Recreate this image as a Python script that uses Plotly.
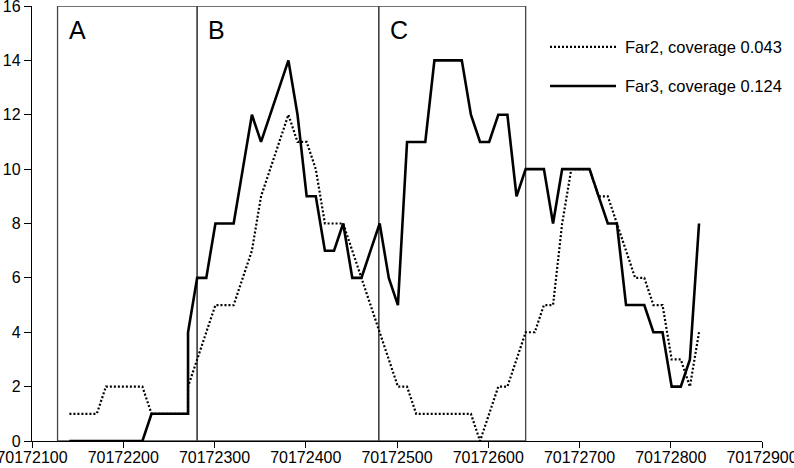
import plotly.graph_objects as go

# genomic positions (every 10 bp, with a doubled point at 70172271)
far2_pos = [70172141, 70172151, 70172161, 70172171, 70172181, 70172191, 70172201, 70172211,
            70172221, 70172231, 70172241, 70172251, 70172261, 70172271, 70172271, 70172281,
            70172291, 70172301, 70172311, 70172321, 70172331, 70172341, 70172351, 70172361,
            70172371, 70172381, 70172391, 70172401, 70172411, 70172421, 70172431, 70172441,
            70172451, 70172461, 70172471, 70172481, 70172491, 70172501, 70172511, 70172521,
            70172531, 70172541, 70172551, 70172561, 70172571, 70172581, 70172591, 70172601,
            70172611, 70172621, 70172631, 70172641, 70172651, 70172661, 70172671, 70172681,
            70172691, 70172701, 70172711, 70172721, 70172731, 70172741, 70172751, 70172761,
            70172771, 70172781, 70172791, 70172801, 70172811, 70172821, 70172831]
far2_cov = [1, 1, 1, 1, 2, 2, 2, 2,
            2, 1, 1, 1, 1, 1, 2, 3,
            4, 5, 5, 5, 6, 7, 9, 10,
            11, 12, 11, 11, 10, 8, 8, 8,
            7, 6, 5, 4, 3, 2, 2, 1,
            1, 1, 1, 1, 1, 1, 0, 1,
            2, 2, 3, 4, 4, 5, 5, 8,
            10, 10, 10, 9, 9, 8, 7, 6,
            6, 5, 5, 3, 3, 2, 4]

far3_pos = list(far2_pos)
far3_cov = [0, 0, 0, 0, 0, 0, 0, 0,
            0, 1, 1, 1, 1, 1, 4, 6,
            6, 8, 8, 8, 10, 12, 11, 12,
            13, 14, 12, 9, 9, 7, 7, 8,
            6, 6, 7, 8, 6, 5, 11, 11,
            11, 14, 14, 14, 14, 12, 11, 11,
            12, 12, 9, 10, 10, 10, 8, 10,
            10, 10, 10, 9, 8, 8, 5, 5,
            5, 4, 4, 2, 2, 3, 8]

region_names = ["A", "B", "C"]
region_bounds = [(70172128, 70172281), (70172281, 70172480), (70172480, 70172641)]

legend_names = ["Far2, coverage 0.043", "Far3, coverage 0.124"]

x_ticks = [70172100, 70172200, 70172300, 70172400, 70172500, 70172600, 70172700, 70172800, 70172900]
y_ticks = [0, 2, 4, 6, 8, 10, 12, 14, 16]

FONT = "Liberation Sans, Arial, sans-serif"

fig = go.Figure()
fig.add_trace(go.Scatter(x=far2_pos, y=far2_cov, mode="lines", name=legend_names[0],
                         line=dict(color="black", width=2.2, dash="2px,2px")))
fig.add_trace(go.Scatter(x=far3_pos, y=far3_cov, mode="lines", name=legend_names[1],
                         line=dict(color="black", width=2.6)))

# region boxes
for name, (x0, x1) in zip(region_names, region_bounds):
    fig.add_shape(type="rect", xref="x", yref="y", x0=x0, x1=x1, y0=0, y1=16,
                  line=dict(color="#444444", width=1.3), layer="below")
    fig.add_annotation(x=x0 + 10, y=15.1, xref="x", yref="y", text=name, showarrow=False,
                       xanchor="left", yanchor="middle",
                       font=dict(family=FONT, size=25, color="black"))

# hand-made legend (long line samples)
for i, (name, dash, w) in enumerate(zip(legend_names, ["2px,2px", "solid"], [2.2, 2.6])):
    yp = 0.906 - i * 0.09
    fig.add_shape(type="line", xref="paper", yref="paper", x0=0.7096, x1=0.80, y0=yp, y1=yp,
                  line=dict(color="black", width=w, dash=dash))
    fig.add_annotation(x=0.81, y=yp, xref="paper", yref="paper", text=name, showarrow=False,
                       xanchor="left", yanchor="middle",
                       font=dict(family=FONT, size=16.5, color="black"))

fig.update_layout(
    width=794, height=468,
    margin=dict(l=32, r=32, t=6, b=27),
    plot_bgcolor="white", paper_bgcolor="white",
    showlegend=False,
    font=dict(family=FONT, size=16, color="black"),
)
fig.update_xaxes(range=[70172100, 70172900], tickmode="array", tickvals=x_ticks,
                 ticktext=[str(v) for v in x_ticks], automargin=False,
                 ticklabeloverflow="allow", ticklabelstandoff=-4,
                 showgrid=False, zeroline=False,
                 showline=True, linecolor="black", linewidth=1.3,
                 ticks="outside", ticklen=6, tickcolor="black", tickwidth=1.3)
fig.update_yaxes(range=[0, 16], tickmode="array", tickvals=y_ticks, automargin=False,
                 ticklabeloverflow="allow",
                 showgrid=False, zeroline=False,
                 showline=True, linecolor="black", linewidth=1.3,
                 ticks="outside", ticklen=7, tickcolor="black", tickwidth=1.3)

# the page's default body margin would push the chart 8px off the window
fig.write_html("out.html", config={"displayModeBar": False},
               post_script="document.body.style.margin='0px';")
